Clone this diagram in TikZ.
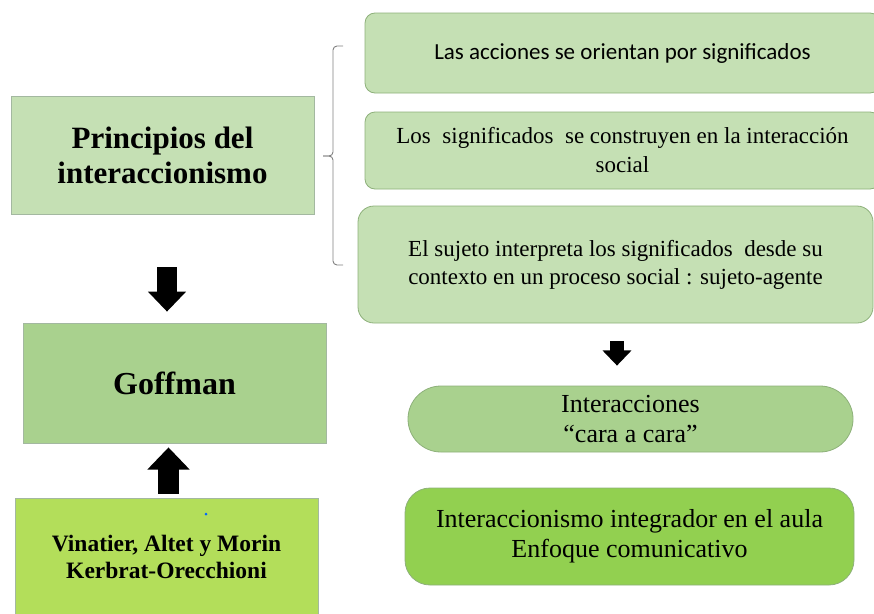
\documentclass[tikz,border=0pt]{standalone}
\usepackage{fontspec}
\setmainfont{Liberation Serif}
\newfontfamily\calibri{Carlito}
\usepackage{tikz}
\usetikzlibrary{positioning,arrows.meta}
\definecolor{paleGreen}{HTML}{C5E0B4}
\definecolor{midGreen}{HTML}{A9D18E}
\definecolor{limeGreen}{HTML}{B3DE5A}
\definecolor{brightGreen}{HTML}{92D050}
\definecolor{edgeGreen}{HTML}{8DB07A}
\definecolor{edgeGrey}{HTML}{A3B8A0}
\tikzset{
  box/.style 2 args={
    draw=edgeGreen, line width=0.8pt, fill=#1, inner sep=0pt, align=center,
    minimum width=#2
  },
  bigarrow/.style 2 args={
    line width=#1, -{Triangle[width=#2, length=#2/1.85]}
  },
  bracket/.style={draw=gray, line width=0.9pt, rounded corners=4pt}
}
\newcommand{\txt}[2]{\fontsize{#1}{#2}\selectfont}

\begin{document}
\begin{tikzpicture}[x=1pt,y=-1pt]
            \useasboundingbox (0,0) rectangle (874,613);

            % left column
            \node (princ) [box={paleGreen}{303pt}, minimum height=118pt, draw=edgeGrey, font=\txt{31}{35}\bfseries]
                at (162.5,155) {Principios del\\interaccionismo};
            \node (goff) [box={midGreen}{303pt}, minimum height=120pt, draw=edgeGrey, font=\txt{32}{36}\bfseries]
                at (174.5,383) {Goffman};
            \node (autores) [box={limeGreen}{303pt}, minimum height=118pt, draw=edgeGrey, font=\txt{23.5}{27}\bfseries]
                at (166.5,557) {Vinatier, Altet y Morin\\Kerbrat-Orecchioni};
            \node (mark) [circle, fill=blue!60!cyan, inner sep=0pt, minimum size=3pt] at (206,514) {};

            % right column
            \node (acc) [box={paleGreen}{515pt}, minimum height=80pt, rounded corners=10pt, font=\txt{23}{28}\calibri]
                at (622.5,53) {Las acciones se orientan por significados};
            \node (sig) [box={paleGreen}{515pt}, minimum height=77pt, rounded corners=10pt, font=\txt{23}{29}]
                at (622.5,150.5) {Los~ significados~ se construyen en la interacción\\social};
            \node (suj) [box={paleGreen}{515pt}, minimum height=117pt, rounded corners=16pt, font=\txt{23}{28}]
                at (615.5,264.5) {El sujeto interpreta los significados~ desde su\\contexto en un proceso social : sujeto-agente};
            \node (cara) [box={midGreen}{445pt}, minimum height=66pt, rounded corners=33pt, font=\txt{26}{30}]
                at (630.5,419) {Interacciones\\``cara a cara''};
            \node (aula) [box={brightGreen}{449pt}, minimum height=97pt, rounded corners=25pt, font=\txt{26}{30}]
                at (629.5,536.5) {Interaccionismo integrador en el aula\\Enfoque comunicativo};

            % bracket
            \coordinate (b1) at (343,265);
            \coordinate (b2) at (343,46);
            \coordinate (bmid) at (333,156);
            \coordinate (btip) at (323,156);
            \draw[bracket] (b2) -| (bmid) -- (btip);
            \draw[bracket] (btip) -- (bmid) |- (b1);

            % arrows
            \coordinate (colA) at (167,0);
            \coordinate (colB) at (168.5,0);
            \coordinate (colC) at (617,0);
            \draw[bigarrow={20pt}{37pt}, shorten <=53pt, shorten >=11pt] (princ.south -| colA) -- (goff.north -| colA);
            \draw[bigarrow={21pt}{41pt}, shorten <=4pt, shorten >=4pt] (autores.north -| colB) -- (goff.south -| colB);
            \draw[bigarrow={14pt}{28pt}, shorten <=18pt, shorten >=20pt] (suj.south -| colC) -- (cara.north -| colC);
        \end{tikzpicture}
\end{document}
